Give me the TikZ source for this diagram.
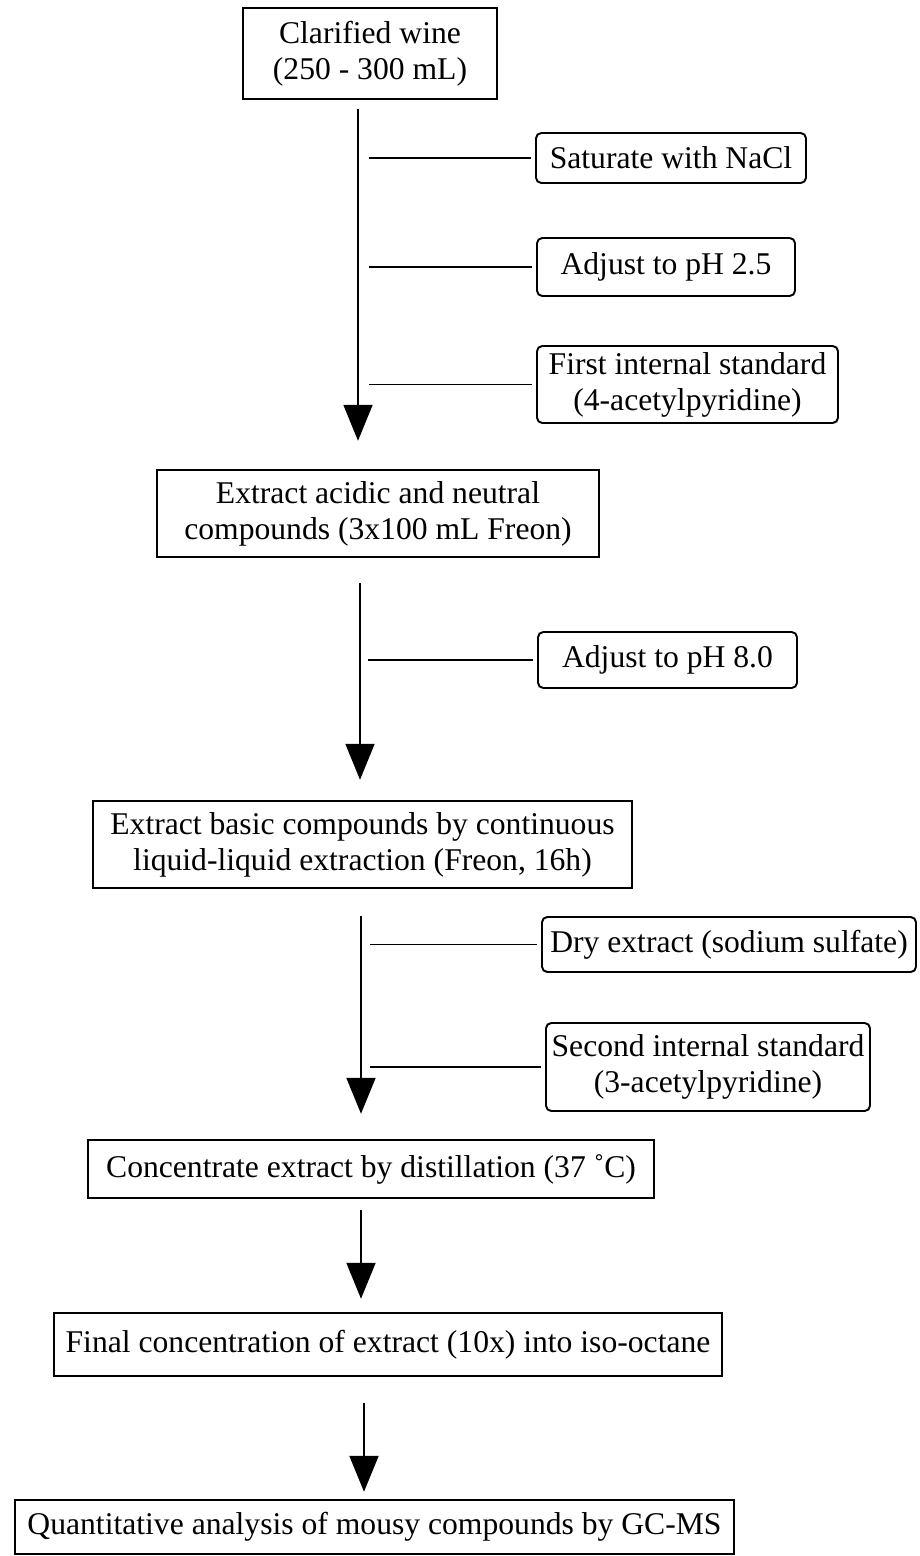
\documentclass[tikz,border=0pt]{standalone}
\usepackage{fontspec}
\setmainfont{Liberation Serif}
\usetikzlibrary{arrows.meta}

\begin{document}
\begin{tikzpicture}[
    font=\fontsize{18}{20.5}\selectfont,
    line width=1.1pt,
    etapa/.style={draw, line width=1.4pt, align=center, inner sep=0pt},
    aditivo/.style={draw, rounded corners=3pt, align=center, inner sep=0pt},
    fluxo/.style={-{Triangle[length=0.72cm,width=0.58cm]}}
]
\useasboundingbox (0,0) rectangle (18.4,-31.12); % Margens
% Etapas principais
\node[etapa, minimum width=5.08cm, minimum height=1.82cm] (vinho) at (7.40,-1.07) {Clarified wine\\ (250 - 300 mL)};
\node[etapa, minimum width=8.84cm, minimum height=1.74cm] (acido) at (7.56,-10.27) {Extract acidic and neutral\\compounds (3x100 mL Freon)};
\node[etapa, minimum width=10.78cm, minimum height=1.74cm] (basico) at (7.25,-16.89) {Extract basic compounds by continuous\\liquid-liquid extraction (Freon, 16h)};
\node[etapa, minimum width=11.32cm, minimum height=1.16cm] (destila) at (7.42,-23.38) {Concentrate extract by distillation (37 ˚C)};
\node[etapa, minimum width=13.36cm, minimum height=1.26cm] (final) at (7.76,-26.89) {Final concentration of extract (10x) into iso-octane};
\node[etapa, minimum width=14.38cm, minimum height=1.08cm] (gcms) at (7.49,-30.54) {Quantitative analysis of mousy compounds by GC-MS};
% Adicoes laterais
\node[aditivo, minimum width=5.40cm, minimum height=1.00cm] (nacl) at (13.42,-3.16) {Saturate with NaCl};
\node[aditivo, minimum width=5.16cm, minimum height=1.16cm] (ph25) at (13.32,-5.34) {Adjust to pH 2.5};
\node[aditivo, minimum width=6.02cm, minimum height=1.54cm] (padrao1) at (13.75,-7.69) {First internal standard\\ (4-acetylpyridine)};
\node[aditivo, minimum width=5.18cm, minimum height=1.12cm] (ph80) at (13.35,-13.20) {Adjust to pH 8.0};
\node[aditivo, minimum width=7.48cm, minimum height=1.10cm] (seca) at (14.58,-18.89) {Dry extract (sodium sulfate)};
\node[aditivo, minimum width=6.48cm, minimum height=1.76cm] (padrao2) at (14.16,-21.34) {Second internal standard\\(3-acetylpyridine)};
% Eixos das setas
\coordinate (t1) at (7.16,0);
\coordinate (t2) at (7.20,0);
\coordinate (t3) at (7.22,0);
\coordinate (t4) at (7.22,0);
\coordinate (t5) at (7.28,0);
% Setas principais
\draw[fluxo, shorten <=0.18cm, shorten >=0.56cm] (vinho.south -| t1) -- (acido.north -| t1);
\draw[fluxo, shorten <=0.50cm, shorten >=0.40cm] (acido.south -| t2) -- (basico.north -| t2);
\draw[fluxo, shorten <=0.54cm, shorten >=0.50cm] (basico.south -| t3) -- (destila.north -| t3);
\draw[fluxo, shorten <=0.22cm, shorten >=0.26cm] (destila.south -| t4) -- (final.north -| t4);
\draw[fluxo, shorten <=0.52cm, shorten >=0.14cm] (final.south -| t5) -- (gcms.north -| t5);
% Ligacoes laterais
\draw[shorten <=0.22cm, shorten >=0.08cm] (nacl.west -| t1) -- (nacl.west);
\draw[shorten <=0.22cm, shorten >=0.08cm] (ph25.west -| t1) -- (ph25.west);
\draw[shorten <=0.22cm, shorten >=0.08cm] (padrao1.west -| t1) -- (padrao1.west);
\draw[shorten <=0.16cm, shorten >=0.08cm] (ph80.west -| t2) -- (ph80.west);
\draw[shorten <=0.18cm, shorten >=0.08cm] (seca.west -| t3) -- (seca.west);
\draw[shorten <=0.18cm, shorten >=0.08cm] (padrao2.west -| t3) -- (padrao2.west);
\end{tikzpicture}
\end{document}
